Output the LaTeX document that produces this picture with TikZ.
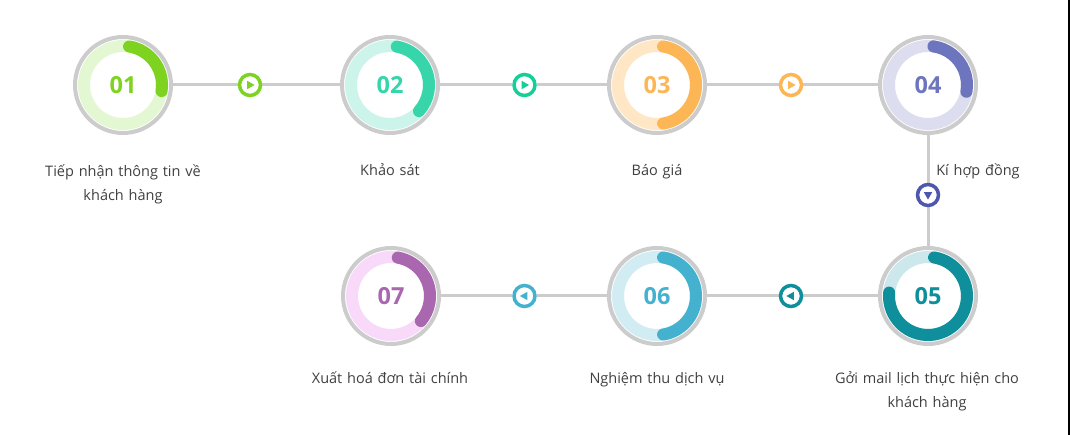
\documentclass[tikz,border=0pt]{standalone}
\usepackage{fontspec}
\setmainfont{Open Sans}
\usetikzlibrary{backgrounds}
\definecolor{linegray}{HTML}{CCCCCC}
\definecolor{txt}{HTML}{404040}
\definecolor{cA}{HTML}{7ED321}\definecolor{lA}{HTML}{E4F7D3}
\definecolor{cB}{HTML}{36D6AA}\definecolor{lB}{HTML}{CDF4EA}
\definecolor{cC}{HTML}{FDB656}\definecolor{lC}{HTML}{FFE7C6}
\definecolor{cD}{HTML}{6D75BE}\definecolor{lD}{HTML}{DCDEF0}
\definecolor{cE}{HTML}{0E8F9B}\definecolor{lE}{HTML}{CCE8EC}
\definecolor{cF}{HTML}{44B2CF}\definecolor{lF}{HTML}{D2ECF3}
\definecolor{cG}{HTML}{A867AE}\definecolor{lG}{HTML}{F9D9FA}
\definecolor{mB}{HTML}{14CF98}
\definecolor{mD}{HTML}{4F56AE}
\tikzset{
  stepnode/.style={circle, draw=linegray, line width=4pt, fill=white, minimum size=96pt, inner sep=0pt},
  mk/.style={circle, draw=#1, line width=3.5pt, fill=white, minimum size=21pt, inner sep=0pt},
  conn/.style={draw=linegray, line width=3pt},
  numtxt/.style={font=\fontsize{23.5}{23.5}\selectfont\bfseries, text=#1},
  lbl/.style={font=\fontsize{14.5}{24}\selectfont, text=txt, anchor=base, align=center, text width=240pt, inner sep=0pt}
}
\newcommand\ringarc[5]{% node, light, dark, start, end
  \draw[#2, line width=12pt] (#1.center) circle[radius=39pt];
  \draw[#3, line width=12pt, line cap=round] (#1.center) ++(#4:39pt) arc[start angle=#4, end angle=#5, radius=39pt];
}
\newcommand\tri[3]{\fill[#2, shift={(#1.center)}, rotate=#3] (-2.8pt,-4.2pt) -- (4.6pt,0pt) -- (-2.8pt,4.2pt) -- cycle;}
\begin{document}
\begin{tikzpicture}[x=1pt,y=-1pt]
\useasboundingbox (0,0) rectangle (1070,435);
% step circles
\node[stepnode] (s1) at (123,85) {};
\node[stepnode] (s2) at (390,85) {};
\node[stepnode] (s3) at (657,85) {};
\node[stepnode] (s4) at (928,85) {};
\node[stepnode] (s5) at (928,296) {};
\node[stepnode] (s6) at (657,296) {};
\node[stepnode] (s7) at (391,296) {};
% markers
\node[mk=cA] (m1) at (250,85) {};
\node[mk=mB] (m2) at (524.5,85) {};
\node[mk=cC] (m3) at (791,85) {};
\node[mk=mD] (m4) at (928,195) {};
\node[mk=cE] (m5) at (791,296) {};
\node[mk=cF] (m6) at (524.5,296) {};
% connectors
\begin{scope}[on background layer]
\fill[white] (0,0) rectangle (1070,435);
\path[conn] (s1) -- (m1) (m1) -- (s2) (s2) -- (m2) (m2) -- (s3) (s3) -- (m3) (m3) -- (s4)
  (s4) -- (m4) (m4) -- (s5) (s5) -- (m5) (m5) -- (s6) (s6) -- (m6) (m6) -- (s7);
\end{scope}
% rings and arcs
\ringarc{s1}{lA}{cA}{81}{-9}
\ringarc{s2}{lB}{cB}{80}{-42}
\ringarc{s3}{lC}{cC}{81}{-81}
\ringarc{s4}{lD}{cD}{82}{-10}
\ringarc{s5}{lE}{cE}{81}{-185}
\ringarc{s6}{lF}{cF}{81}{-81}
\ringarc{s7}{lG}{cG}{80}{-40}
% triangles
\tri{m1}{cA}{0}
\tri{m2}{mB}{0}
\tri{m3}{cC}{0}
\tri{m4}{mD}{-90}
\tri{m5}{cE}{180}
\tri{m6}{cF}{180}
% numbers
\node[numtxt=cA] (n1) at (s1) {01};
\node[numtxt=cB] (n2) at (s2) {02};
\node[numtxt=cC] (n3) at (s3) {03};
\node[numtxt=cD] (n4) at (s4) {04};
\node[numtxt=cE] (n5) at (s5) {05};
\node[numtxt=cF] (n6) at (s6) {06};
\node[numtxt=cG] (n7) at (s7) {07};
% labels
\node[lbl] (t1) at (123,177) {Tiếp nhận thông tin về\\khách hàng};
\node[lbl] (t2) at (390,176) {Khảo sát};
\node[lbl] (t3) at (657,176) {Báo giá};
\node[lbl] (t4) at (978,176) {Kí hợp đồng};
\node[lbl] (t5) at (927,383) {Gởi mail lịch thực hiện cho\\khách hàng};
\node[lbl] (t6) at (657,383) {Nghiệm thu dịch vụ};
\node[lbl] (t7) at (390,383) {Xuất hoá đơn tài chính};
% right edge
\draw[black, line width=2pt] (1069,0) -- (1069,435);
\end{tikzpicture}
\end{document}
